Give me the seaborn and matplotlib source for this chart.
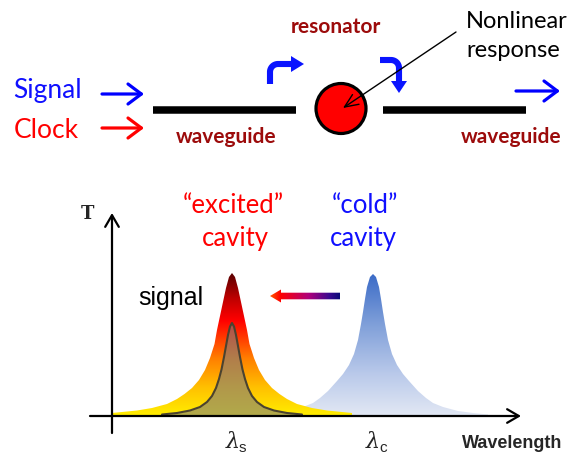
import numpy as np
import matplotlib
matplotlib.use("Agg")
import matplotlib.pyplot as plt
import seaborn as sns
import pandas as pd
from matplotlib.patches import Circle, Polygon
from matplotlib.colors import LinearSegmentedColormap

# ---------------- data (heights in px above the axis) -------------
excited_center = 232
excited_offsets = [-120, -110, -95, -80, -65, -55, -47.5, -40, -33, -27, -22, -17.5, -15, -12, -9, -6, -3, 0,
                   3, 6, 9, 12, 15, 17.5, 22, 27, 33, 40, 47.5, 55, 65, 80, 95, 110, 120]
excited_heights = [3, 4, 5.5, 8, 12, 17, 22, 28, 36, 46, 58, 72, 86, 100, 114, 128, 139, 143,
                   139, 128, 114, 100, 86, 72, 58, 46, 36, 28, 22, 17, 12, 8, 5.5, 4, 3]

signal_center = 232
signal_offsets = [-70, -55, -42, -32, -25, -20, -16, -13, -10.5, -8, -6, -4, -2, 0,
                  2, 4, 6, 8, 10.5, 13, 16, 20, 25, 32, 42, 55, 70]
signal_heights = [1.5, 3, 5.5, 9, 14, 20, 28, 37, 46.5, 59, 70, 81, 89.5, 93,
                  89.5, 81, 70, 59, 46.5, 37, 28, 20, 14, 9, 5.5, 3, 1.5]

cold_center = 373
cold_offsets = [-115, -100, -85, -70, -60, -53, -45, -36, -30, -24, -19, -15, -12, -10, -8, -6, -3, 0,
                3, 6, 8, 10, 12, 15, 19, 24, 30, 36, 45, 53, 60, 70, 85, 100, 115]
cold_heights = [1.5, 3, 5, 9, 13, 18, 25, 35, 42, 51, 62, 76, 92, 104, 117, 129, 139, 142,
                139, 129, 117, 104, 92, 76, 62, 51, 42, 35, 25, 18, 13, 9, 5, 3, 1.5]

peak_subscripts = ["s", "c"]
peak_label_x = [226, 366]

# ---------------- style ----------------
sns.set_theme(style="white")
CAL = ["Lato", "DejaVu Sans"]
ARIAL = ["Liberation Sans", "DejaVu Sans"]
DARKRED = "#9c0b0b"
BASE = 416

fig = plt.figure(figsize=(5.73, 4.58), dpi=100)
ax = fig.add_axes([0, 0, 1, 1])
ax.set_axis_off()


def gradient_peak(xs, tops, stops, zorder):
    verts = list(zip(xs, tops)) + [(xs[-1], BASE), (xs[0], BASE)]
    patch = Polygon(verts, closed=True, fc="none", ec="none")
    ax.add_patch(patch)
    cmap = LinearSegmentedColormap.from_list("g", stops)
    grad = np.linspace(0, 1, 256).reshape(-1, 1)
    im = ax.imshow(grad, cmap=cmap, aspect="auto", origin="upper",
                   extent=(min(xs), max(xs), BASE, min(tops)), zorder=zorder,
                   interpolation="bilinear")
    im.set_clip_path(patch)


# cold cavity peak
cx = [cold_center + o for o in cold_offsets]
cy = [BASE - h for h in cold_heights]
gradient_peak(cx, cy, [(0, "#3b6bc7"), (0.35, "#7f9fd9"), (0.7, "#b9c9ea"), (1, "#e2e8f4")], 2)

# excited cavity peak
ex = [excited_center + o for o in excited_offsets]
ey = [BASE - h for h in excited_heights]
gradient_peak(ex, ey, [(0, "#5a0000"), (0.18, "#c00000"), (0.33, "#ff0000"),
                       (0.6, "#ff8000"), (0.8, "#ffc000"), (1, "#ffee00")], 3)

# signal peak (semi-transparent)
sx = [signal_center + o for o in signal_offsets]
sy = [BASE - h for h in signal_heights]
ax.fill_between(sx, sy, BASE, color="#7d7d7d", alpha=0.6, lw=0, zorder=4)
sig_df = pd.DataFrame({"x": sx, "y": sy})
sns.lineplot(data=sig_df, x="x", y="y", ax=ax, color="#4a4230", lw=1.5, zorder=5,
             sort=False, estimator=None)

# axes arrows
ax.annotate("", xy=(521, BASE), xytext=(90, BASE),
            arrowprops=dict(arrowstyle="->,head_length=0.6,head_width=0.35", lw=1.6,
                            color="black", mutation_scale=14, shrinkA=0, shrinkB=0), zorder=6)
ax.annotate("", xy=(112, 213), xytext=(112, 433),
            arrowprops=dict(arrowstyle="->,head_length=0.6,head_width=0.35", lw=1.6,
                            color="black", mutation_scale=14, shrinkA=0, shrinkB=0), zorder=6)
ax.text(87, 214, "T", family=["DejaVu Serif"], weight="bold",
        fontsize=13, ha="center", va="center")

# peak labels
for sub, x in zip(peak_subscripts, peak_label_x):
    ax.text(x, 448, "\u03bb", family=["DejaVu Serif"], style="italic", fontsize=16,
            ha="left", va="baseline")
    ax.text(x + 13, 452, sub, family=ARIAL, fontsize=11, ha="left", va="baseline")
ax.text(462, 448, "Wavelength", family=ARIAL, weight="bold", fontsize=13, va="baseline")

# cavity labels
ax.text(233, 213, "\u201cexcited\u201d", family=CAL, fontsize=18.5, color="#ff0000",
        ha="center", va="baseline")
ax.text(235, 246, "cavity", family=CAL, fontsize=18.5, color="#ff0000", ha="center", va="baseline")
ax.text(365, 213, "\u201ccold\u201d", family=CAL, fontsize=18.5, color="#1010ff",
        ha="center", va="baseline")
ax.text(363, 246, "cavity", family=CAL, fontsize=18.5, color="#1010ff", ha="center", va="baseline")
ax.text(138, 305, "signal", family=ARIAL, fontsize=18, color="black", va="baseline")

# gradient shift arrow
arrow_verts = [(270, 296), (281, 289.5), (281, 292.7), (340, 292.7), (340, 299.3), (281, 299.3), (281, 302.5)]
apatch = Polygon(arrow_verts, closed=True, fc="none", ec="none")
ax.add_patch(apatch)
acmap = LinearSegmentedColormap.from_list("a", [(0, "#ff5a00"), (0.15, "#ff0000"), (0.55, "#b0007a"),
                                                (0.85, "#3a0a90"), (1, "#0a0a78")])
aim = ax.imshow(np.linspace(0, 1, 256).reshape(1, -1), cmap=acmap, aspect="auto",
                extent=(270, 340, 303, 289), zorder=6, interpolation="bilinear")
aim.set_clip_path(apatch)

# ---------------- top schematic ----------------
ax.text(13, 98, "Signal", family=CAL, fontsize=19, color="#1010ff", va="baseline")
ax.text(14, 138, "Clock", family=CAL, fontsize=19, color="#ff0000", va="baseline")
for yy, col in [(94, "#0000ff"), (128, "#ff0000")]:
    ax.annotate("", xy=(144, yy), xytext=(102, yy),
                arrowprops=dict(arrowstyle="->,head_length=0.6,head_width=0.45", lw=2.3,
                                color=col, mutation_scale=16, shrinkA=0, shrinkB=0))
ax.annotate("", xy=(560, 91), xytext=(516, 91),
            arrowprops=dict(arrowstyle="->,head_length=0.6,head_width=0.45", lw=2.3,
                            color="#0000ff", mutation_scale=16, shrinkA=0, shrinkB=0))

# waveguides
ax.plot([153, 296], [110, 110], color="black", lw=5.4, solid_capstyle="butt")
ax.plot([383, 526], [110, 110], color="black", lw=5.4, solid_capstyle="butt")
ax.text(226, 143, "waveguide", family=CAL, weight="bold", fontsize=15, color=DARKRED,
        ha="center", va="baseline")
ax.text(511, 143, "waveguide", family=CAL, weight="bold", fontsize=15, color=DARKRED,
        ha="center", va="baseline")
ax.text(336, 33, "resonator", family=CAL, weight="bold", fontsize=15, color=DARKRED,
        ha="center", va="baseline")

# resonator
ax.add_patch(Circle((341, 108.5), 25, fc="#ff0000", ec="black", lw=2.3, zorder=3))

# curved block arrows
t = np.linspace(np.pi, np.pi / 2, 20)
r = 8
arc1x = 278 + r * np.cos(t)
arc1y = 72 - r * np.sin(t)
ax.plot(np.r_[270, arc1x, 292], np.r_[84, arc1y, 64], color="#0a14ff", lw=4.4,
        solid_capstyle="butt", solid_joinstyle="round")
ax.add_patch(Polygon([(304, 64), (291, 56), (291, 72)], closed=True, fc="#0a14ff", ec="none"))

t2 = np.linspace(np.pi / 2, 0, 20)
arc2x = 391 + r * np.cos(t2)
arc2y = 68 - r * np.sin(t2)
ax.plot(np.r_[380, arc2x, 399], np.r_[60, arc2y, 82], color="#0a14ff", lw=4.4,
        solid_capstyle="butt", solid_joinstyle="round")
ax.add_patch(Polygon([(399, 93), (391, 81), (407, 81)], closed=True, fc="#0a14ff", ec="none"))

# nonlinear response pointer
ax.text(466, 28, "Nonlinear", family=CAL, fontsize=17, color="black", va="baseline")
ax.text(466, 57, "response", family=CAL, fontsize=17, color="black", va="baseline")
ax.annotate("", xy=(343, 108), xytext=(456, 32),
            arrowprops=dict(arrowstyle="->,head_length=0.7,head_width=0.3", lw=1.0,
                            color="black", mutation_scale=14, shrinkA=0, shrinkB=0), zorder=5)

ax.set_xlim(0, 573)
ax.set_ylim(458, 0)
fig.savefig("out.png", dpi=100, facecolor="white")
